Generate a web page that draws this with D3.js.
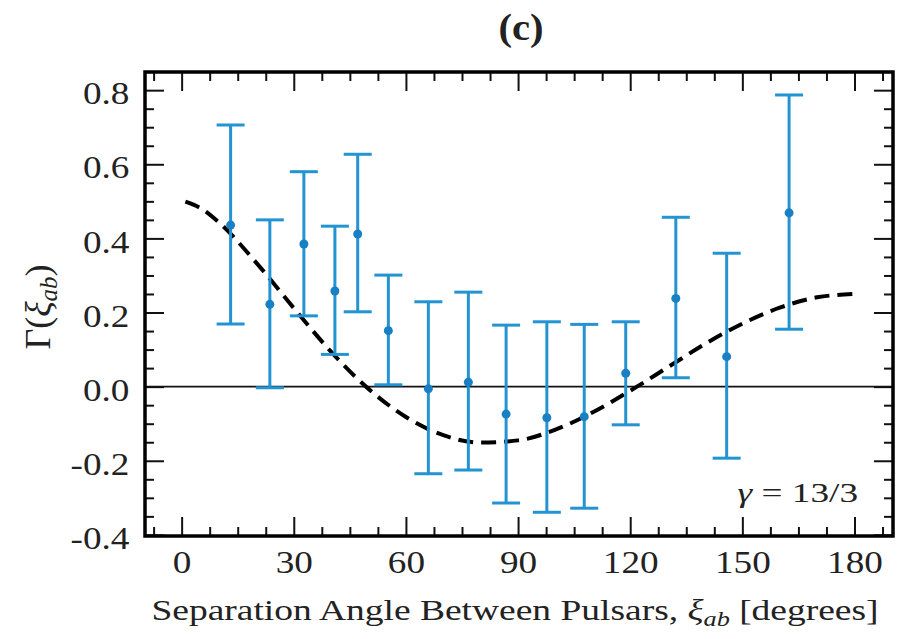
<!DOCTYPE html>
<html>
<head>
<meta charset="utf-8">
<script src="https://cdn.jsdelivr.net/npm/d3@7"></script>
<style>
  body { margin: 0; background: #fff; }
  svg text { font-family: "Liberation Serif", "Times New Roman", serif; fill: #222; }
</style>
</head>
<body>
<svg id="chart" width="909" height="639"></svg>
<script>
// measured points (separation angle in degrees)
const angles = [13.1, 23.6, 32.7, 41.0, 47.1, 55.3, 66.0, 76.7, 86.8, 97.7, 107.7, 118.8, 132.2, 145.8, 162.5];
const gammaVals = [0.436, 0.222, 0.385, 0.258, 0.412, 0.151, -0.006, 0.012, -0.074, -0.084, -0.081, 0.036, 0.238, 0.081, 0.469];
const upperVals = [0.706, 0.450, 0.580, 0.433, 0.627, 0.301, 0.229, 0.255, 0.166, 0.175, 0.168, 0.175, 0.457, 0.360, 0.787];
const lowerVals = [0.169, -0.003, 0.191, 0.087, 0.202, 0.005, -0.235, -0.225, -0.314, -0.339, -0.328, -0.103, 0.024, -0.193, 0.155];

// dashed curve
const curveAngles = [1, 5, 10, 20, 30, 40, 50, 60, 70, 80, 90, 100, 110, 120, 130, 140, 150, 160, 170, 180];
const curveVals = [0.499, 0.482, 0.443, 0.334, 0.212, 0.094, -0.006, -0.082, -0.131, -0.151, -0.145, -0.116, -0.069, -0.011, 0.052, 0.115, 0.170, 0.213, 0.241, 0.250];

const xTicks = [0, 30, 60, 90, 120, 150, 180];
const yTicks = [-0.4, -0.2, 0.0, 0.2, 0.4, 0.6, 0.8];

const width = 909, height = 639;
const margin = { top: 72, right: 16, bottom: 103, left: 145 };
const blue = '#2393d2';
const stretch = 'scale(1.2,1)';   // the figure's lettering is a bit wide

const svg = d3.select('#chart');

const x = d3.scaleLinear().domain([-9.8, 190.3]).range([margin.left, width - margin.right]);
const y = d3.scaleLinear().domain([-0.403, 0.849]).range([height - margin.bottom, margin.top]);

const x0 = margin.left, x1 = width - margin.right;
const y0 = height - margin.bottom, y1 = margin.top;

const xMinor = d3.range(-1, 26).map(i => i * 7.5).filter(v => v % 30 !== 0);
const yMinor = d3.range(-8, 18).map(i => +(i * 0.05).toFixed(2)).filter(v => Math.abs(v * 5 - Math.round(v * 5)) > 1e-6);

const majorLen = 19, minorLen = 9;

function styleTicks(g) {
  g.select('.domain').remove();
  g.selectAll('.tick line').attr('stroke', '#111').attr('stroke-width', 2);
}

// zero line
svg.append('line')
  .attr('x1', x0).attr('x2', x1)
  .attr('y1', y(0)).attr('y2', y(0))
  .attr('stroke', '#111').attr('stroke-width', 1.6);

// bottom axis, labelled
svg.append('g')
  .attr('transform', `translate(0,${y0})`)
  .call(d3.axisBottom(x).tickValues(xTicks).tickSize(-majorLen).tickPadding(15).tickFormat(d3.format('d')))
  .call(styleTicks)
  .call(g => g.selectAll('.tick text').attr('font-size', 31).attr('fill', '#222')
    .attr('font-family', '"Liberation Serif", serif').attr('transform', stretch));
svg.append('g')
  .attr('transform', `translate(0,${y0})`)
  .call(d3.axisBottom(x).tickValues(xMinor).tickSize(-minorLen).tickFormat(''))
  .call(styleTicks);

// top axis
svg.append('g')
  .attr('transform', `translate(0,${y1})`)
  .call(d3.axisTop(x).tickValues(xTicks).tickSize(-majorLen).tickFormat(''))
  .call(styleTicks);
svg.append('g')
  .attr('transform', `translate(0,${y1})`)
  .call(d3.axisTop(x).tickValues(xMinor).tickSize(-minorLen).tickFormat(''))
  .call(styleTicks);

// left axis, labelled
svg.append('g')
  .attr('transform', `translate(${x0},0)`)
  .call(d3.axisLeft(y).tickValues(yTicks).tickSize(-majorLen).tickPadding(13).tickFormat(d3.format('.1f')))
  .call(styleTicks)
  .call(g => g.selectAll('.tick text').attr('font-size', 31).attr('fill', '#222')
    .attr('font-family', '"Liberation Serif", serif')
    .attr('dy', '0.44em').attr('transform', stretch)
    .text(d => d3.format('.1f')(d).replace('\u2212', '-')));
svg.append('g')
  .attr('transform', `translate(${x0},0)`)
  .call(d3.axisLeft(y).tickValues(yMinor).tickSize(-minorLen).tickFormat(''))
  .call(styleTicks);

// right axis
svg.append('g')
  .attr('transform', `translate(${x1},0)`)
  .call(d3.axisRight(y).tickValues(yTicks).tickSize(-majorLen).tickFormat(''))
  .call(styleTicks);
svg.append('g')
  .attr('transform', `translate(${x1},0)`)
  .call(d3.axisRight(y).tickValues(yMinor).tickSize(-minorLen).tickFormat(''))
  .call(styleTicks);

// dashed curve
const curveData = curveAngles.map((a, i) => [a, curveVals[i]]);
svg.append('path')
  .datum(curveData)
  .attr('fill', 'none')
  .attr('stroke', '#000')
  .attr('stroke-width', 4)
  .attr('stroke-dasharray', '15,8')
  .attr('d', d3.line().x(d => x(d[0])).y(d => y(d[1])).curve(d3.curveMonotoneX));

// error bars
const pts = angles.map((a, i) => ({ a, v: gammaVals[i], hi: upperVals[i], lo: lowerVals[i] }));
const capW = 14;
const bars = svg.append('g').attr('stroke', blue).attr('stroke-width', 3);
bars.selectAll('.stem').data(pts).enter().append('line')
  .attr('x1', d => x(d.a)).attr('x2', d => x(d.a))
  .attr('y1', d => y(d.lo)).attr('y2', d => y(d.hi));
bars.selectAll('.capTop').data(pts).enter().append('line')
  .attr('x1', d => x(d.a) - capW).attr('x2', d => x(d.a) + capW)
  .attr('y1', d => y(d.hi)).attr('y2', d => y(d.hi));
bars.selectAll('.capBot').data(pts).enter().append('line')
  .attr('x1', d => x(d.a) - capW).attr('x2', d => x(d.a) + capW)
  .attr('y1', d => y(d.lo)).attr('y2', d => y(d.lo));

svg.append('g').selectAll('circle').data(pts).enter().append('circle')
  .attr('cx', d => x(d.a)).attr('cy', d => y(d.v))
  .attr('r', 4.5).attr('fill', '#1a80c4');

// frame
svg.append('rect')
  .attr('x', x0).attr('y', y1)
  .attr('width', x1 - x0).attr('height', y0 - y1)
  .attr('fill', 'none').attr('stroke', '#000').attr('stroke-width', 3.5);

// title
svg.append('text')
  .attr('transform', 'translate(521,40) scale(1.1,1)')
  .attr('text-anchor', 'middle')
  .attr('font-size', 37).attr('font-weight', 'bold')
  .text('(c)');

// gamma annotation
const gam = svg.append('text')
  .attr('transform', 'translate(858,502) scale(1.38,1)')
  .attr('text-anchor', 'end')
  .attr('font-size', 27);
gam.append('tspan').attr('font-style', 'italic').text('\u03b3');
gam.append('tspan').text(' = 13/3');

// x label
const xl = svg.append('text')
  .attr('transform', 'translate(515,620) scale(1.25,1)')
  .attr('text-anchor', 'middle')
  .attr('font-size', 30);
xl.append('tspan').text('Separation Angle Between Pulsars, ');
xl.append('tspan').attr('font-style', 'italic').text('\u03be');
xl.append('tspan').attr('font-style', 'italic').attr('font-size', 21).attr('dy', 6).text('ab');
xl.append('tspan').attr('dy', -6).text(' [degrees]');

// y label
const yl = svg.append('text')
  .attr('transform', 'translate(50,307) rotate(-90)')
  .attr('text-anchor', 'middle')
  .attr('font-size', 36);
yl.append('tspan').text('\u0393(');
yl.append('tspan').attr('font-style', 'italic').text('\u03be');
yl.append('tspan').attr('font-style', 'italic').attr('font-size', 25).attr('dy', 7).text('ab');
yl.append('tspan').attr('dy', -7).text(')');
</script>
</body>
</html>
